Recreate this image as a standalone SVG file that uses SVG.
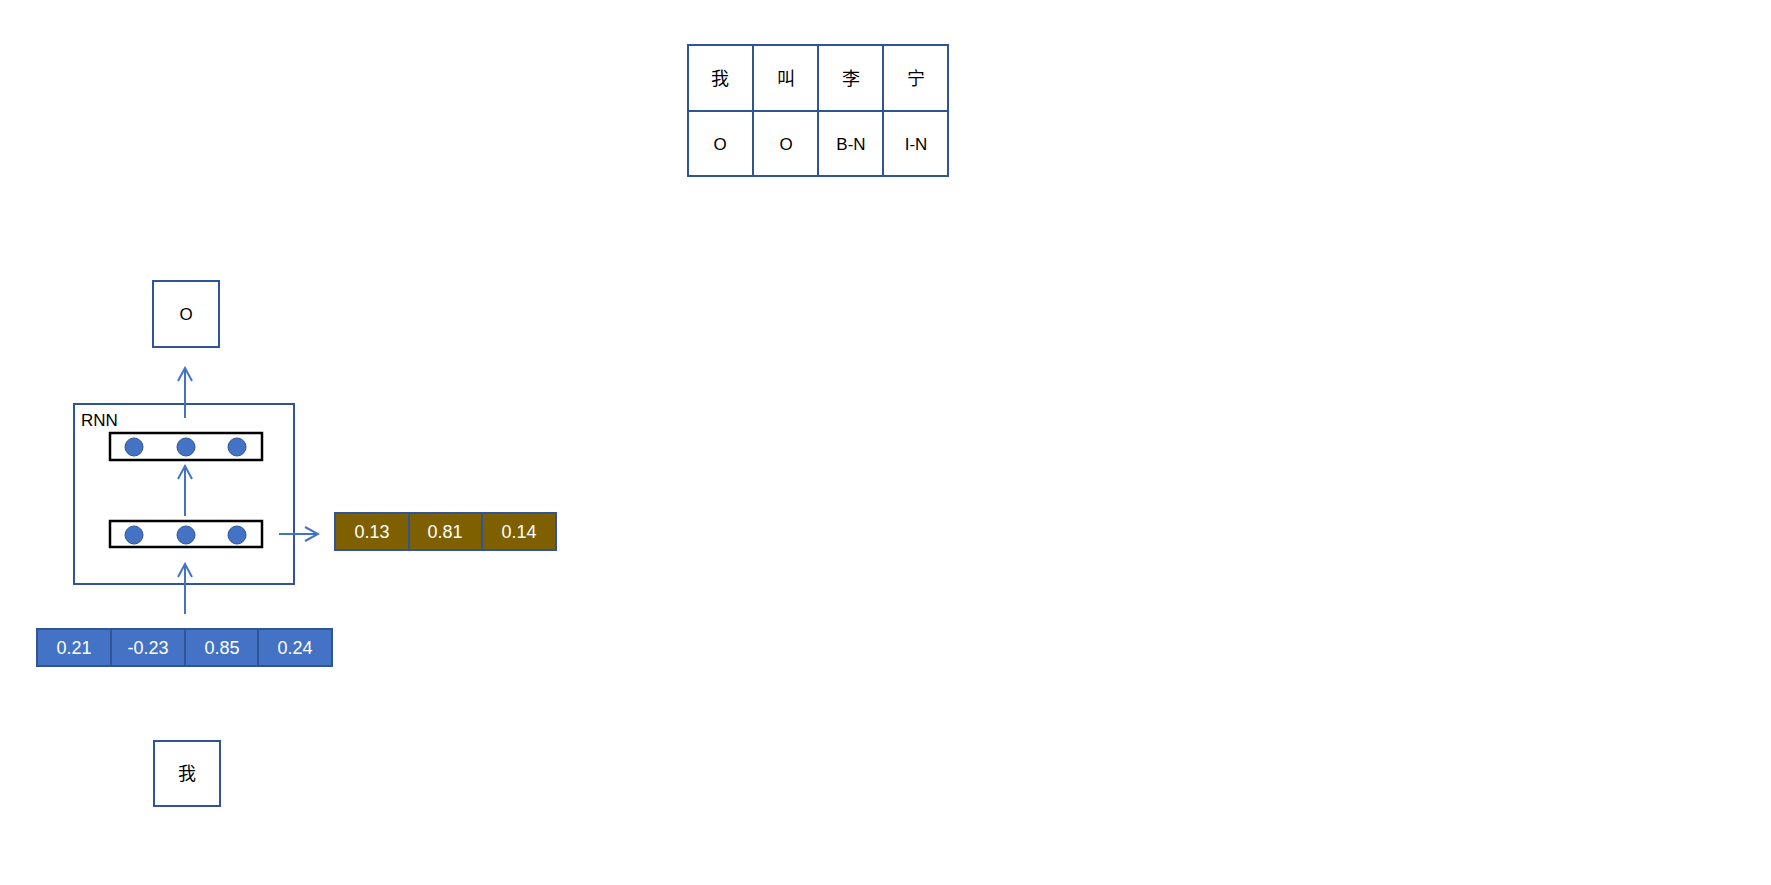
<svg xmlns="http://www.w3.org/2000/svg" width="1771" height="885" viewBox="0 0 1771 885">
<defs>
<style>
.box{fill:#fff;stroke:#2F5597;stroke-width:2}
.cell{stroke:#2F5597;stroke-width:2}
.blue{fill:#4472C4}
.brown{fill:#7F6000}
.inner{fill:none;stroke:#000;stroke-width:2.5}
.dot{fill:#4472C4;stroke:#2F5597;stroke-width:1}
.lbl{font-family:"Liberation Sans","Noto Sans CJK SC",sans-serif;font-size:17px;fill:#000;text-anchor:middle}
.cjk{font-family:"Noto Sans CJK SC","Liberation Sans",sans-serif;font-size:18px;fill:#000;text-anchor:middle}
.num{font-family:"Liberation Sans",sans-serif;font-size:18px;fill:#fff;text-anchor:middle}
.conn{stroke:#4472C4;stroke-width:2;fill:none}
</style>
<marker id="arr" markerWidth="16" markerHeight="16" refX="14" refY="8" orient="auto" markerUnits="userSpaceOnUse">
<path d="M1,1 L14,8 L1,15" fill="none" stroke="#4472C4" stroke-width="2"/>
</marker>
</defs>
<rect width="1771" height="885" fill="#fff"/>

<g id="table">
<rect x="688" y="45" width="260" height="131" class="box"/>
<line x1="753" y1="45" x2="753" y2="176" class="cell"/>
<line x1="818" y1="45" x2="818" y2="176" class="cell"/>
<line x1="883" y1="45" x2="883" y2="176" class="cell"/>
<line x1="688" y1="111" x2="948" y2="111" class="cell"/>
<text x="720" y="85" class="cjk">我</text>
<text x="786" y="85" class="cjk">叫</text>
<text x="851" y="85" class="cjk">李</text>
<text x="916" y="85" class="cjk">宁</text>
<text x="720" y="150" class="lbl">O</text>
<text x="786" y="150" class="lbl">O</text>
<text x="851" y="150" class="lbl">B-N</text>
<text x="916" y="150" class="lbl">I-N</text>
</g>

<g id="output">
<rect x="153" y="281" width="66" height="66" class="box"/>
<text x="186" y="320" class="lbl">O</text>
</g>

<g id="rnn">
<rect x="74" y="404" width="220" height="180" class="box"/>
<text x="81" y="426" class="lbl" style="text-anchor:start">RNN</text>
<g id="layer2">
<rect x="110" y="433" width="152" height="27" class="inner"/>
<circle cx="134" cy="447" r="9" class="dot"/>
<circle cx="186" cy="447" r="9" class="dot"/>
<circle cx="237" cy="447" r="9" class="dot"/>
</g>
<g id="layer1">
<rect x="110" y="521" width="152" height="26" class="inner"/>
<circle cx="134" cy="535" r="9" class="dot"/>
<circle cx="186" cy="535" r="9" class="dot"/>
<circle cx="237" cy="535" r="9" class="dot"/>
</g>
</g>

<g id="hidden-vector">
<rect x="335" y="513" width="221" height="37" class="brown"/>
<rect x="335" y="513" width="221" height="37" fill="none" class="cell"/>
<line x1="409" y1="513" x2="409" y2="550" class="cell"/>
<line x1="482" y1="513" x2="482" y2="550" class="cell"/>
<text x="372" y="538" class="num">0.13</text>
<text x="445" y="538" class="num">0.81</text>
<text x="519" y="538" class="num">0.14</text>
</g>

<g id="embedding">
<rect x="37" y="629" width="295" height="37" class="blue"/>
<rect x="37" y="629" width="295" height="37" fill="none" class="cell"/>
<line x1="111" y1="629" x2="111" y2="666" class="cell"/>
<line x1="185" y1="629" x2="185" y2="666" class="cell"/>
<line x1="258" y1="629" x2="258" y2="666" class="cell"/>
<text x="74" y="654" class="num">0.21</text>
<text x="148" y="654" class="num">-0.23</text>
<text x="222" y="654" class="num">0.85</text>
<text x="295" y="654" class="num">0.24</text>
</g>

<g id="input">
<rect x="154" y="741" width="66" height="65" class="box"/>
<text x="187" y="780" class="cjk">我</text>
</g>

<g id="connectors">
<line x1="185" y1="614" x2="185" y2="564" class="conn" marker-end="url(#arr)"/>
<line x1="185" y1="516" x2="185" y2="466" class="conn" marker-end="url(#arr)"/>
<line x1="185" y1="418" x2="185" y2="368" class="conn" marker-end="url(#arr)"/>
<line x1="279" y1="534" x2="318" y2="534" class="conn" marker-end="url(#arr)"/>
</g>
</svg>
